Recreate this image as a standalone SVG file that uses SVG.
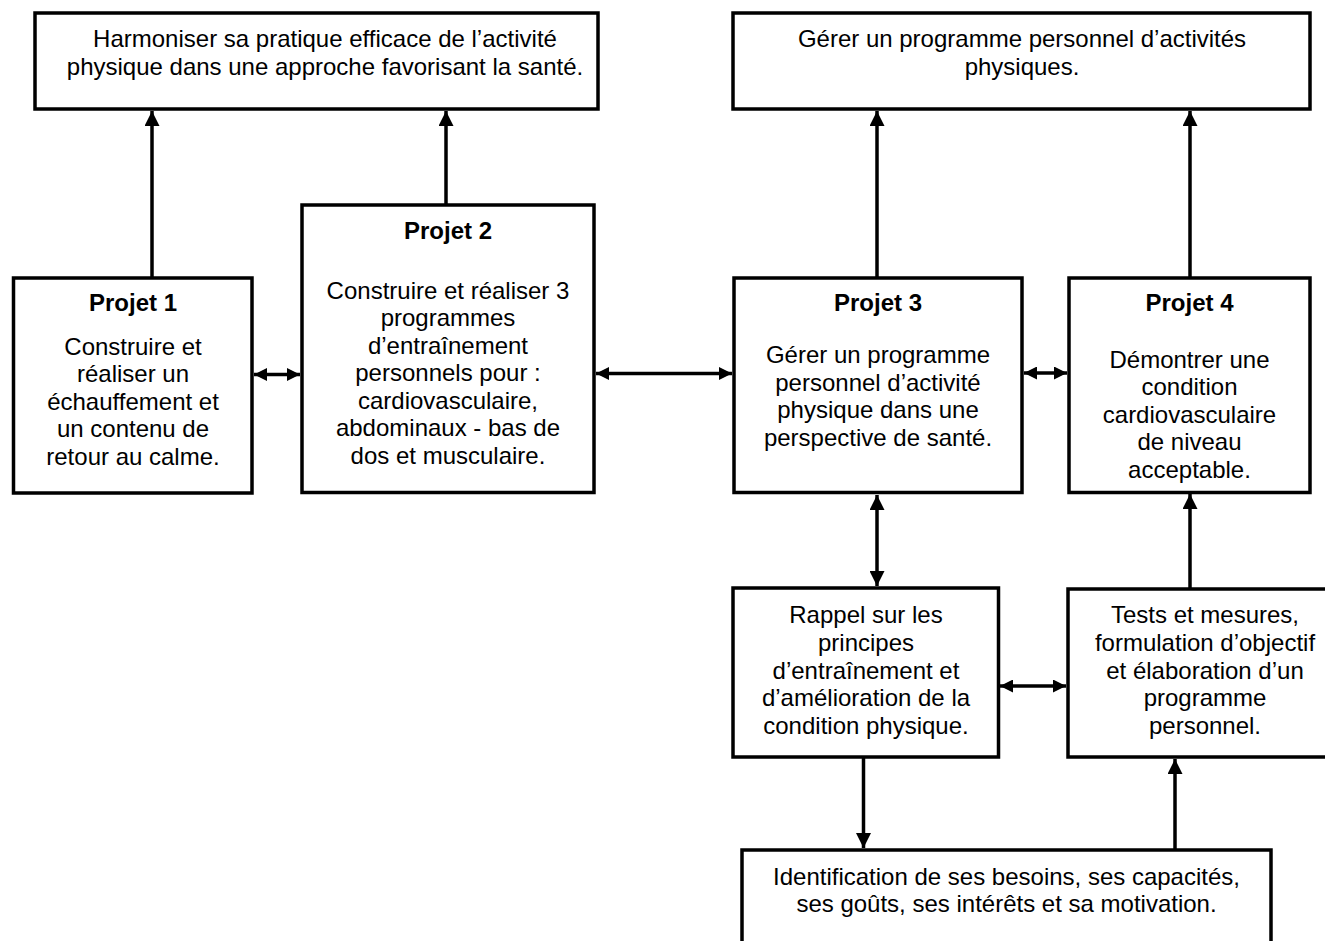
<svg xmlns="http://www.w3.org/2000/svg" width="1325" height="941" viewBox="0 0 1325 941">
<style>
.box{fill:#fff;stroke:#000;stroke-width:3.5}
.t{font-family:"Liberation Sans",Arial,sans-serif;font-size:24px;fill:#000;text-anchor:middle}
.b{font-weight:bold}
.c{stroke:#000;stroke-width:3.5;fill:none}
</style>
<defs>
<marker id="ah" markerUnits="userSpaceOnUse" markerWidth="15" markerHeight="15" refX="15" refY="7.5" orient="auto-start-reverse">
<path d="M0,0 L15,7.5 L0,15 z" fill="#000"/>
</marker>
<marker id="ah2" markerUnits="userSpaceOnUse" markerWidth="13" markerHeight="13" refX="13" refY="6.5" orient="auto-start-reverse">
<path d="M0,0 L13,6.5 L0,13 z" fill="#000"/>
</marker>
</defs>
<rect width="1325" height="941" fill="#fff"/>

<g id="connectors">
<line class="c" x1="152" y1="277" x2="152" y2="111" marker-end="url(#ah)"/>
<line class="c" x1="446" y1="205" x2="446" y2="111" marker-end="url(#ah)"/>
<line class="c" x1="877" y1="278" x2="877" y2="111" marker-end="url(#ah)"/>
<line class="c" x1="1190" y1="278" x2="1190" y2="111" marker-end="url(#ah)"/>
<line class="c" x1="254" y1="374.5" x2="300" y2="374.5" marker-start="url(#ah2)" marker-end="url(#ah2)"/>
<line class="c" x1="596" y1="373.5" x2="732" y2="373.5" marker-start="url(#ah2)" marker-end="url(#ah2)"/>
<line class="c" x1="1024" y1="373" x2="1067" y2="373" marker-start="url(#ah2)" marker-end="url(#ah2)"/>
<line class="c" x1="877" y1="495" x2="877" y2="586" marker-start="url(#ah)" marker-end="url(#ah)"/>
<line class="c" x1="1000" y1="686" x2="1066" y2="686" marker-start="url(#ah2)" marker-end="url(#ah2)"/>
<line class="c" x1="863.5" y1="757" x2="863.5" y2="848" marker-end="url(#ah)"/>
<line class="c" x1="1175" y1="850" x2="1175" y2="759" marker-end="url(#ah)"/>
<line class="c" x1="1190" y1="589" x2="1190" y2="494" marker-end="url(#ah)"/>
</g>

<g id="goal-left">
<rect class="box" x="35" y="13" width="563" height="96"/>
<text class="t" x="325" y="47">Harmoniser sa pratique efficace de l’activité</text>
<text class="t" x="325" y="75">physique dans une approche favorisant la santé.</text>
</g>

<g id="goal-right">
<rect class="box" x="733" y="13" width="577" height="96"/>
<text class="t" x="1022" y="47">Gérer un programme personnel d’activités</text>
<text class="t" x="1022" y="75">physiques.</text>
</g>

<g id="projet1">
<rect class="box" x="13.5" y="278" width="238.5" height="215"/>
<text class="t b" x="133" y="310.5">Projet 1</text>
<text class="t" x="133" y="354.5">Construire et</text>
<text class="t" x="133" y="382">réaliser un</text>
<text class="t" x="133" y="409.5">échauffement et</text>
<text class="t" x="133" y="437">un contenu de</text>
<text class="t" x="133" y="464.5">retour au calme.</text>
</g>

<g id="projet2">
<rect class="box" x="302" y="205" width="292" height="287.5"/>
<text class="t b" x="448" y="238.5">Projet 2</text>
<text class="t" x="448" y="298.5">Construire et réaliser 3</text>
<text class="t" x="448" y="326">programmes</text>
<text class="t" x="448" y="353.5">d’entraînement</text>
<text class="t" x="448" y="381">personnels pour :</text>
<text class="t" x="448" y="408.5">cardiovasculaire,</text>
<text class="t" x="448" y="436">abdominaux - bas de</text>
<text class="t" x="448" y="463.5">dos et musculaire.</text>
</g>

<g id="projet3">
<rect class="box" x="734" y="278" width="288" height="214.5"/>
<text class="t b" x="878" y="310.5">Projet 3</text>
<text class="t" x="878" y="363">Gérer un programme</text>
<text class="t" x="878" y="390.5">personnel d’activité</text>
<text class="t" x="878" y="418">physique dans une</text>
<text class="t" x="878" y="445.5">perspective de santé.</text>
</g>

<g id="projet4">
<rect class="box" x="1069" y="278" width="241" height="214.5"/>
<text class="t b" x="1189.5" y="310.5">Projet 4</text>
<text class="t" x="1189.5" y="367.5">Démontrer une</text>
<text class="t" x="1189.5" y="395">condition</text>
<text class="t" x="1189.5" y="422.5">cardiovasculaire</text>
<text class="t" x="1189.5" y="450">de niveau</text>
<text class="t" x="1189.5" y="477.5">acceptable.</text>
</g>

<g id="rappel">
<rect class="box" x="733" y="588" width="265.5" height="169"/>
<text class="t" x="866" y="623">Rappel sur les</text>
<text class="t" x="866" y="651">principes</text>
<text class="t" x="866" y="678.5">d’entraînement et</text>
<text class="t" x="866" y="706">d’amélioration de la</text>
<text class="t" x="866" y="733.5">condition physique.</text>
</g>

<g id="tests">
<rect class="box" x="1068" y="589" width="280" height="168"/>
<text class="t" x="1205" y="623">Tests et mesures,</text>
<text class="t" x="1205" y="651">formulation d’objectif</text>
<text class="t" x="1205" y="678.5">et élaboration d’un</text>
<text class="t" x="1205" y="706">programme</text>
<text class="t" x="1205" y="733.5">personnel.</text>
</g>

<g id="identification">
<rect class="box" x="742" y="850" width="529" height="110"/>
<text class="t" x="1006.5" y="885">Identification de ses besoins, ses capacités,</text>
<text class="t" x="1006.5" y="912">ses goûts, ses intérêts et sa motivation.</text>
</g>
</svg>
